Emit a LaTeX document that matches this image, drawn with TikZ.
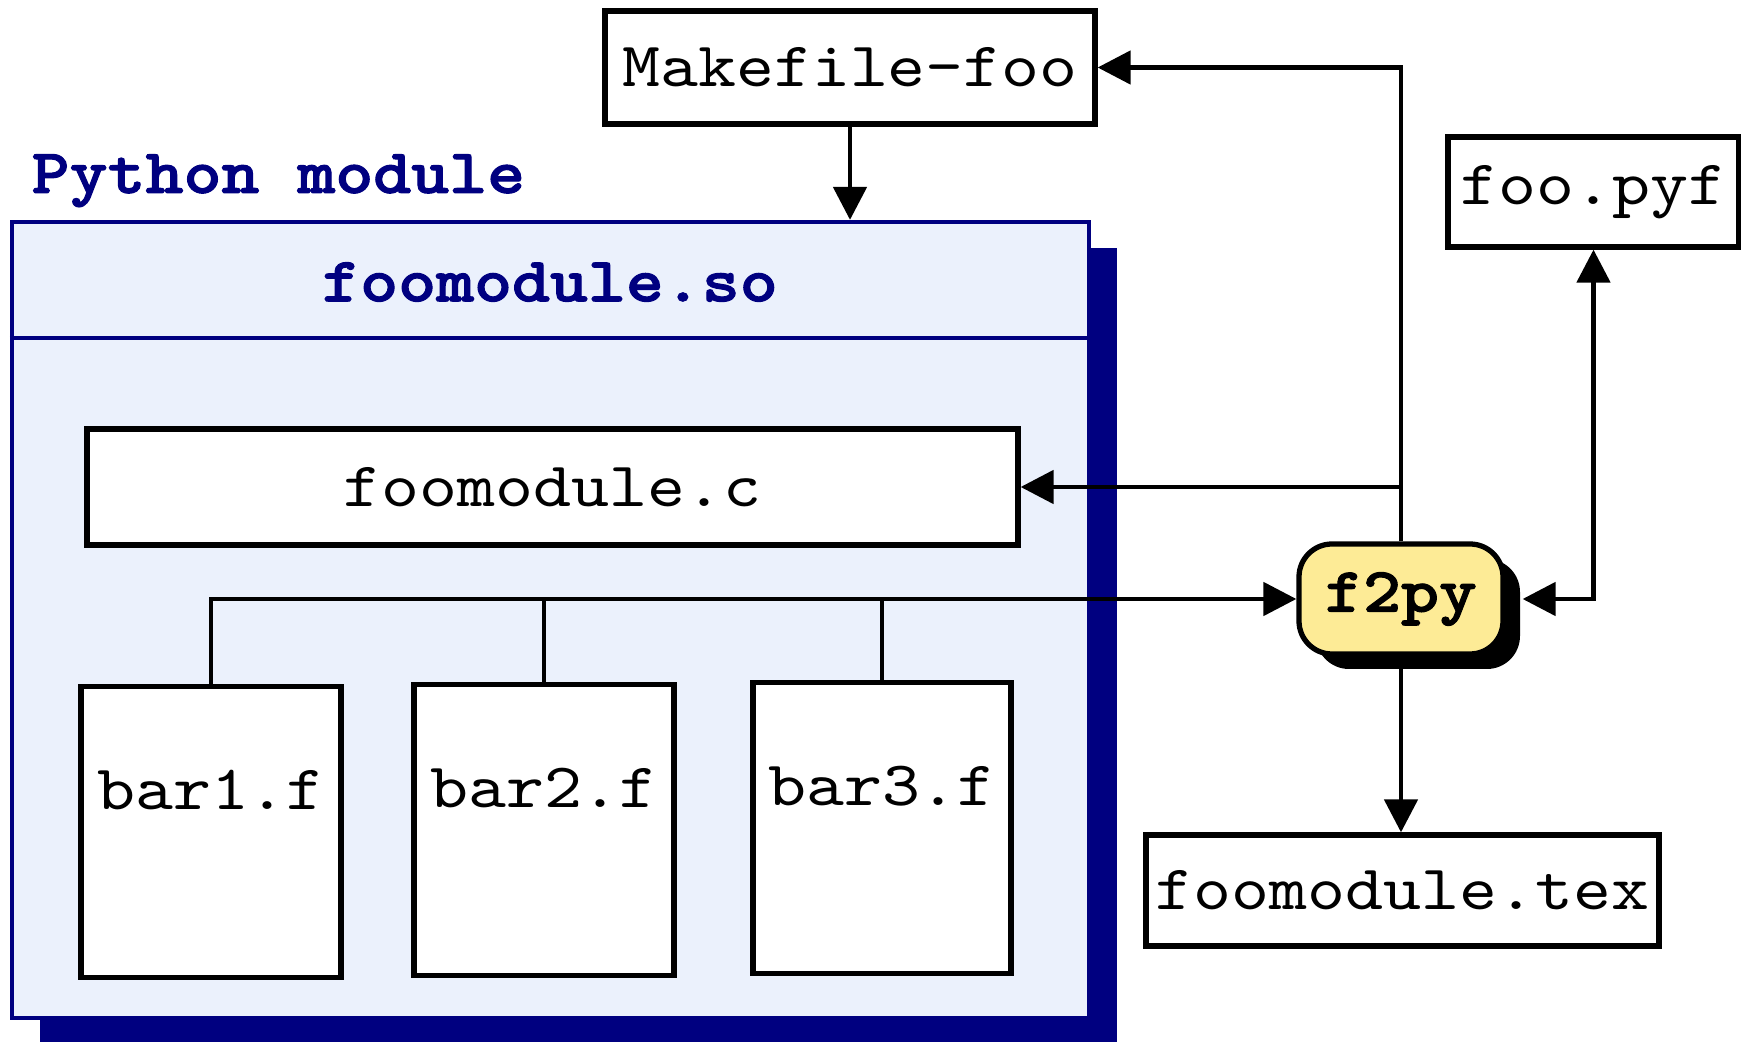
\documentclass[tikz,border=0pt]{standalone}
\usepackage{fontspec}
\setmainfont{lmmono10-regular.otf}[FakeStretch=1.143,BoldFont=lmmonolt10-bold.otf,BoldFeatures={FakeBold=1.6}]
\usetikzlibrary{arrows.meta,shadows}
\definecolor{navy}{RGB}{0,0,128}
\definecolor{modfill}{RGB}{235,241,252}
\definecolor{f2pyfill}{RGB}{253,235,150}

\begin{document}
\begin{tikzpicture}[x=0.1mm,y=-0.1mm,font=\fontsize{18}{22}\selectfont,
    file/.style={draw,line width=1.5pt,fill=white,inner sep=0pt},
    srcfile/.style={file,anchor=north,minimum width=26mm,text height=12.3mm,text depth=16.8mm},
    link/.style={line width=1.4pt,-{Triangle[length=3.3mm,width=3.3mm]}},
    modbox/.style={draw=navy,line width=1.2pt,fill=modfill,inner sep=0pt,
        drop shadow={shadow xshift=2.8mm,shadow yshift=-2.6mm,fill=navy,opacity=1}},
    tool/.style={draw,line width=1.5pt,fill=f2pyfill,rounded corners=3.3mm,inner sep=0pt,
        font=\fontsize{18}{22}\selectfont\bfseries,
        drop shadow={shadow xshift=1.7mm,shadow yshift=-1.5mm,fill=black,opacity=1}}]
    % Define parameters
    \def\busy{601}
    \def\headery{338}
    \useasboundingbox (0,0) rectangle (1741,1042);

% Python module with its header
    \node[anchor=base west,inner sep=0pt,text=navy,font=\fontsize{18}{22}\selectfont\bfseries] (pylabel) at (31,193) {Python module};
    \node[modbox,minimum width=107.7mm,minimum height=79.6mm] (mod) at (550.5,620) {};
    \draw[navy,line width=1.2pt] (mod.west |- 0,\headery) -- (mod.east |- 0,\headery);
    \node[text=navy,font=\fontsize{18}{22}\selectfont\bfseries] (so) at (550,282) {foomodule.so};

% Files inside the module
    \node[file,minimum width=93.1mm,minimum height=11.6mm] (fooc) at (552.5,487) {foomodule.c};
    \node[srcfile] (bar1) at (211,684) {bar1.f};
    \node[srcfile] (bar2) at (544,682) {bar2.f};
    \node[srcfile,minimum width=25.8mm] (bar3) at (882,680) {bar3.f};

% Files outside
    \node[file,minimum width=49mm,minimum height=11.3mm] (make) at (850,67.5) {Makefile-foo};
    \node[file,minimum width=29.1mm,minimum height=11mm] (pyf) at (1593.5,192) {foo.pyf};
    \node[file,minimum width=51.3mm,minimum height=11.1mm] (tex) at (1402.5,890.5) {foomodule.tex};

% The f2py tool
    \node[tool,minimum width=20.4mm,minimum height=11mm] (f2py) at (1401,599) {f2py};

% Connections
    \draw[link] (make.south) -- (make.south |- mod.north);
    \draw[link] (f2py.north) |- (make.east);
    \draw[link] (f2py.north) |- (fooc.east);
    \draw[link] (bar1.north) |- (f2py.west);
    \draw[line width=1.4pt] (bar2.north) -- (bar2.north |- f2py.west);
    \draw[line width=1.4pt] (bar3.north) -- (bar3.north |- f2py.west);
    \draw[link] (f2py.south) -- (f2py.south |- tex.north);
    \draw[link,{Triangle[length=3.3mm,width=3.3mm]}-{Triangle[length=3.3mm,width=3.3mm]}] ([xshift=1.7mm]f2py.east) -| (pyf.south);

\end{tikzpicture}
\end{document}
